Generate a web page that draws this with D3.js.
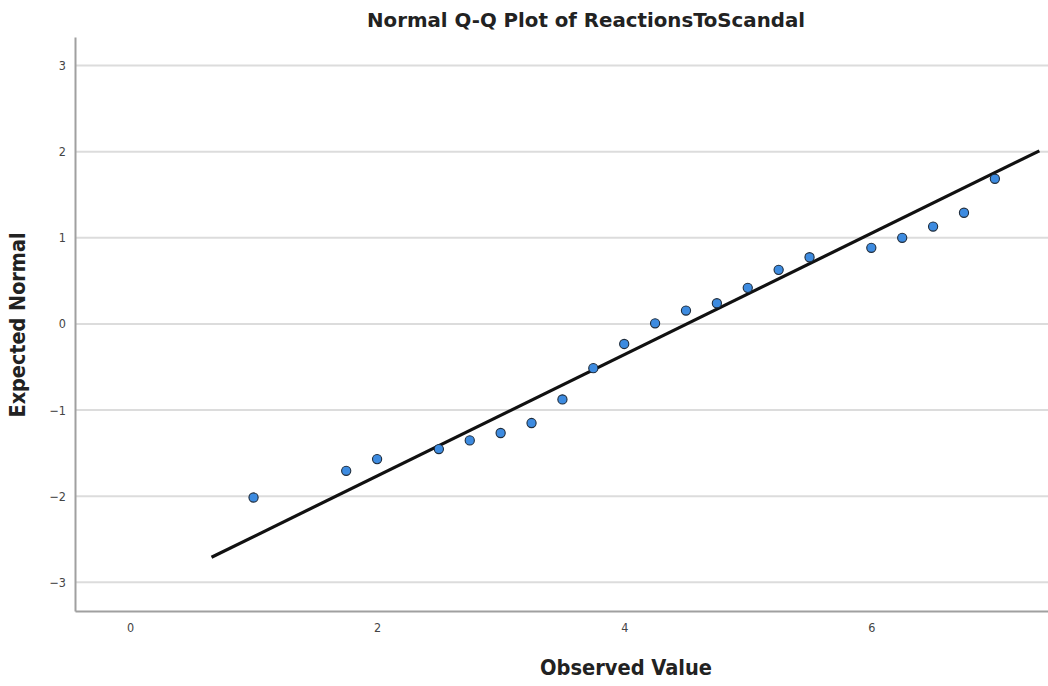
<!DOCTYPE html>
<html><head><meta charset="utf-8">
<script src="https://cdn.jsdelivr.net/npm/d3@7"></script>
<style>body{margin:0;background:#fff}svg{display:block}</style>
</head><body>
<svg id="c" width="1048" height="686"></svg>
<script>
const observed = [1, 1.75, 2, 2.5, 2.75, 3, 3.25, 3.5, 3.75, 4, 4.25, 4.5, 4.75, 5, 5.25, 5.5, 6, 6.25, 6.5, 6.75, 7];
const expected = [-2.016, -1.706, -1.570, -1.453, -1.353, -1.267, -1.151, -0.877, -0.514, -0.233, 0.007, 0.155, 0.240, 0.419, 0.628, 0.774, 0.884, 1.000, 1.131, 1.291, 1.686];
const lineX = [0.66, 7.36];
const lineY = [-2.71, 2.01];
const xTicks = [0, 2, 4, 6];
const yTicks = [-3, -2, -1, 0, 1, 2, 3];

(function () {
const svg = d3.select("#c");
const mLeft = 75, mRight = 1048, mTop = 37, mBottom = 611;
const x = d3.scaleLinear().domain([-0.445, 7.43]).range([mLeft, mRight]);
const y = d3.scaleLinear().domain([-3.334, 3.332]).range([mBottom, mTop]);
const font = "'DejaVu Sans Condensed','Liberation Sans',sans-serif";

// gridlines
svg.append("g").selectAll("line").data(yTicks).join("line")
  .attr("x1", mLeft).attr("x2", mRight)
  .attr("y1", d => y(d)).attr("y2", d => y(d))
  .attr("stroke", "#dcdcdc").attr("stroke-width", 2);

// axes
const yAxis = svg.append("g").attr("transform", `translate(${mLeft},0)`)
  .call(d3.axisLeft(y).tickValues(yTicks).tickSize(0).tickPadding(9).tickFormat(d3.format("d")));
const xAxis = svg.append("g").attr("transform", `translate(0,${mBottom})`)
  .call(d3.axisBottom(x).tickValues(xTicks).tickSize(0).tickPadding(12).tickFormat(d3.format("d")));
[yAxis, xAxis].forEach(a => {
  a.select(".domain").attr("stroke", "#a0a0a0").attr("stroke-width", 2);
  a.selectAll("text").attr("font-family", font).attr("font-size", 12.5).attr("fill", "#444");
});

// reference line
svg.append("line")
  .attr("x1", x(lineX[0])).attr("y1", y(lineY[0]))
  .attr("x2", x(lineX[1])).attr("y2", y(lineY[1]))
  .attr("stroke", "#111").attr("stroke-width", 3.2);

// points
svg.append("g").selectAll("circle").data(observed).join("circle")
  .attr("cx", d => x(d)).attr("cy", (d, i) => y(expected[i]))
  .attr("r", 4.6).attr("fill", "#3d8be0").attr("stroke", "#1e2c3c").attr("stroke-width", 1.1);

// titles
svg.append("text").attr("x", 586).attr("y", 27).attr("text-anchor", "middle")
  .attr("font-family", font).attr("font-weight", "bold").attr("font-size", 20).attr("fill", "#222")
  .attr("textLength", 438).attr("lengthAdjust", "spacingAndGlyphs")
  .text("Normal Q-Q Plot of ReactionsToScandal");
svg.append("text").attr("x", 626).attr("y", 675).attr("text-anchor", "middle")
  .attr("font-family", font).attr("font-weight", "bold").attr("font-size", 21).attr("fill", "#222")
  .attr("textLength", 172).attr("lengthAdjust", "spacingAndGlyphs")
  .text("Observed Value");
svg.append("text").attr("transform", "translate(25,325) rotate(-90)").attr("text-anchor", "middle")
  .attr("font-family", font).attr("font-weight", "bold").attr("font-size", 21).attr("fill", "#222")
  .attr("textLength", 185).attr("lengthAdjust", "spacingAndGlyphs")
  .text("Expected Normal");
})();
</script>
</body></html>
